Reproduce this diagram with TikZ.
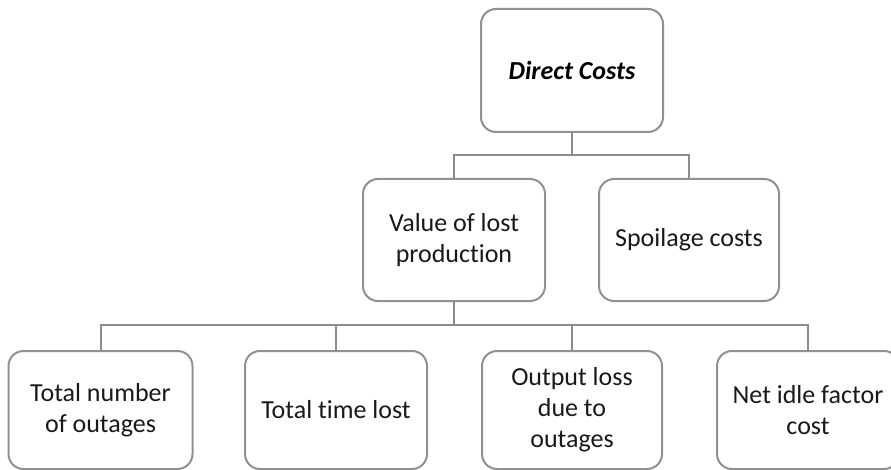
\documentclass[tikz,border=0pt]{standalone}
\usepackage{fontspec}
\setmainfont[Ligatures={NoCommon}]{Carlito}
\definecolor{boxgray}{RGB}{145,145,145}
\definecolor{linegray}{RGB}{140,140,140}
\begin{document}
\begin{tikzpicture}[x=1pt,y=-1pt,
  box/.style={draw=boxgray, line width=2pt, rounded corners=15pt, fill=white,
    align=center, inner sep=0pt, font=\fontsize{26}{31}\selectfont, text=black!90},
  conn/.style={draw=linegray, line width=2pt}]
\useasboundingbox (0,0) rectangle (891,470);
\clip (0,0) rectangle (891,470);
\node[box, minimum width=182pt, minimum height=123pt, font=\fontsize{26}{31}\selectfont\bfseries\itshape, text=black] (dc) at (572,70.5) {Direct Costs};
\node[box, minimum width=182pt, minimum height=122pt] (vlp) at (454,240) {Value of lost\\production};
\node[box, minimum width=180pt, minimum height=122pt] (sc) at (689,240) {Spoilage costs};
\node[box, minimum width=184pt, minimum height=118pt] (b1) at (100.5,410) {Total number\\of outages};
\node[box, minimum width=182pt, minimum height=118pt] (b2) at (336,410) {Total time lost};
\node[box, minimum width=180pt, minimum height=118pt] (b3) at (572,410) {Output loss\\due to\\outages};
\node[box, minimum width=182pt, minimum height=118pt] (b4) at (808,410) {Net idle factor\\cost};
\coordinate (j1) at (572,155);
\coordinate (j2) at (454,325);
\draw[conn] (dc.south) -- (j1);
\draw[conn] (vlp.north) |- (j1) -| (sc.north);
\draw[conn] (vlp.south) -- (j2);
\draw[conn] (b1.north) |- (j2);
\draw[conn] (j2) -| (b4.north);
\draw[conn] (b2.north) -- (b2.north |- j2);
\draw[conn] (b3.north) -- (b3.north |- j2);
\end{tikzpicture}
\end{document}
